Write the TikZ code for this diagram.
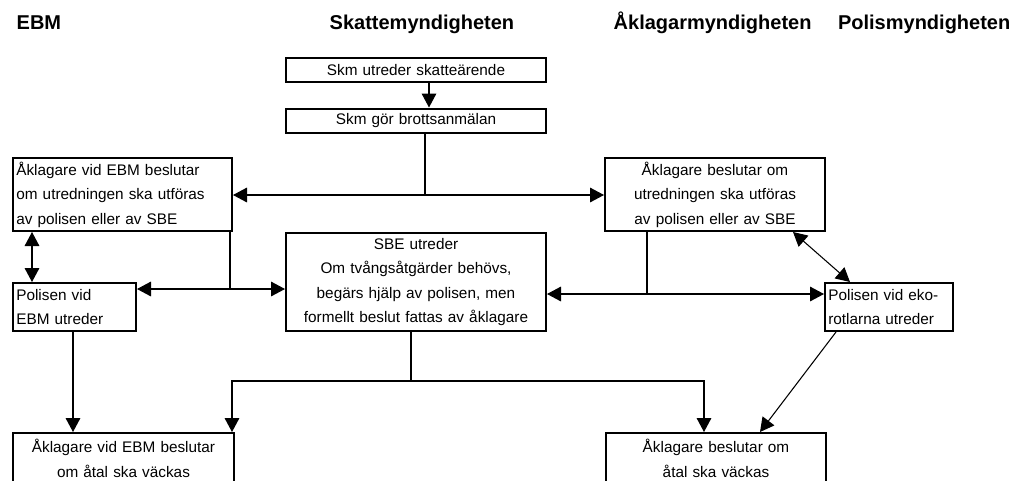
\documentclass[tikz,border=0pt]{standalone}
\usepackage{fontspec}
\setmainfont{Liberation Sans}
\usetikzlibrary{arrows.meta}

\begin{document}
\begin{tikzpicture}[x=0.75pt, y=-0.75pt,
    box/.style={draw, line width=1.5pt, inner xsep=2.5pt, inner ysep=0pt,
      font=\fontsize{11.5}{18.4}\selectfont},
    head/.style={anchor=base west, font=\fontsize{15}{18}\selectfont\bfseries},
    con/.style={line width=0.8pt},
    arr/.style={con, -{Triangle[length=10.5pt,width=11pt]}},
    arrs/.style={con, {Triangle[length=10.5pt,width=11pt]}-{Triangle[length=10.5pt,width=11pt]}}]
    \useasboundingbox (0,0) rectangle (1031,480);
    \node [head] (hebm) at (12,29) {EBM};
    \node [head] (hskm) at (325,29) {Skattemyndigheten};
    \node [head] (hakl) at (609,29) {Åklagarmyndigheten};
    \node [head, anchor=base east] (hpol) at (1015,29) {Polismyndigheten};
    \node [box, text width=190pt, minimum height=18pt, align=center] (skm1) at (416,70) {Skm utreder skatteärende};
    \node [box, text width=190pt, minimum height=18pt, align=center] (skm2) at (416,120.5) {Skm gör brottsanmälan};
    \node [box, text width=159.25pt, minimum height=54.75pt, align=left] (A1) at (122.5,194.5)
      {Åklagare vid EBM beslutar\\om utredningen ska utföras\\av polisen eller av SBE};
    \node [box, text width=160pt, minimum height=54.75pt, align=center] (A2) at (715,194.5)
      {Åklagare beslutar om\\utredningen ska utföras\\av polisen eller av SBE};
    \node [box, text width=190pt, minimum height=73.5pt, align=center] (SBE) at (416,282)
      {SBE utreder\\Om tvångsåtgärder behövs,\\begärs hjälp av polisen, men\\formellt beslut fattas av åklagare};
    \node [box, text width=87.25pt, minimum height=36pt, align=left] (PE) at (74.5,307)
      {Polisen vid\\EBM utreder};
    \node [box, text width=91pt, minimum height=36pt, align=left] (PK) at (889,307)
      {Polisen vid eko-\\rotlarna utreder};
    \node [box, text width=160.75pt, minimum height=38.25pt, align=center] (A3) at (123.5,458.5)
      {Åklagare vid EBM beslutar\\om åtal ska väckas};
    \node [box, text width=160pt, minimum height=38.25pt, align=center] (A4) at (716,458.5)
      {Åklagare beslutar om\\åtal ska väckas};
    \coordinate (j1) at (425,195);
    \coordinate (j2) at (230,289);
    \coordinate (j3) at (647,294);
    \coordinate (j4) at (411,381);
    \draw [arr] ([xshift=9.75pt]skm1.south) -- ([xshift=9.75pt]skm2.north);
    \draw [con] (skm2.south -| j1) -- (j1);
    \draw [arr] (j1) -- (A1.east |- j1);
    \draw [arr] (j1) -- (A2.west |- j1);
    \draw [arrs] ([xshift=15pt]A1.south west) -- ([xshift=15pt]PE.north west);
    \draw [con] (A1.south -| j2) -- (j2);
    \draw [arr] (j2) -- (PE.east |- j2);
    \draw [arr] (j2) -- (SBE.west |- j2);
    \draw [con] (A2.south -| j3) -- (j3);
    \draw [arr] (j3) -- (SBE.east |- j3);
    \draw [arr] (j3) -- (PK.west |- j3);
    \draw [arrs] ([xshift=-24.75pt]A2.south east) -- ([xshift=19.5pt]PK.north west);
    \draw [arr] ([xshift=45.75pt]PE.south west) -- ([xshift=45.75pt]A3.north west);
    \draw [con] (SBE.south -| j4) -- (j4);
    \draw [arr] (j4) -| ([xshift=-2.25pt]A3.north east);
    \draw [arr] (j4) -| ([xshift=-9pt]A4.north);
    \draw [arr] ([xshift=9pt]PK.south west) -- ([xshift=33pt]A4.north);
\end{tikzpicture}
\end{document}
